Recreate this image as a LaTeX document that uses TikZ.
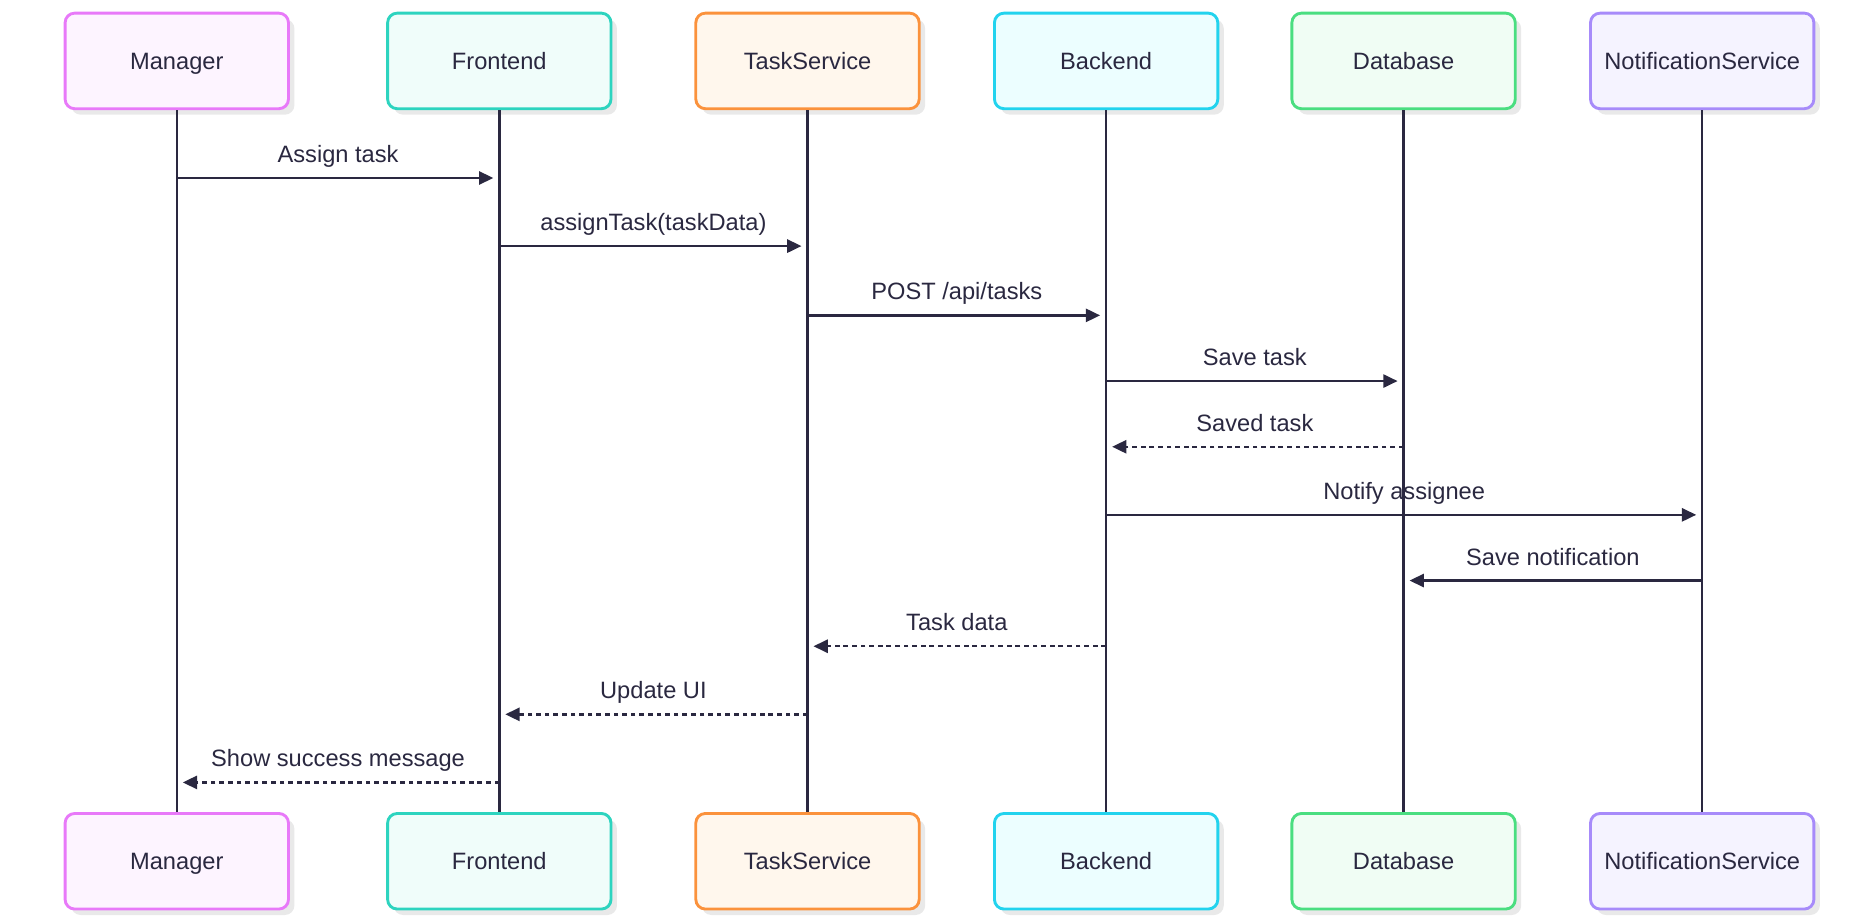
\documentclass[tikz,border=0pt]{standalone}
\usepackage{fontspec}
\setmainfont{Liberation Sans}
\usetikzlibrary{arrows.meta,shadows}
\definecolor{ink}{HTML}{2A2840}
\definecolor{mgrS}{HTML}{E879F9}\definecolor{mgrF}{HTML}{FDF4FF}
\definecolor{feS}{HTML}{2DD4BF}\definecolor{feF}{HTML}{F0FDFA}
\definecolor{tsS}{HTML}{FB923C}\definecolor{tsF}{HTML}{FFF7ED}
\definecolor{beS}{HTML}{22D3EE}\definecolor{beF}{HTML}{ECFEFF}
\definecolor{dbS}{HTML}{4ADE80}\definecolor{dbF}{HTML}{F0FDF4}
\definecolor{nsS}{HTML}{A78BFA}\definecolor{nsF}{HTML}{F5F3FF}
\definecolor{shade}{HTML}{E9E9E9}
\begin{document}
\begin{tikzpicture}[x=0.5pt,y=-0.5pt,
  font=\fontsize{9.9}{12}\selectfont,
  actor/.style={rectangle, rounded corners=4pt, line width=1.2pt,
    minimum width=93.5pt, minimum height=40pt, text=ink,
    text height=7.1pt, text depth=0pt, inner sep=0pt,
    general shadow={shadow xshift=2.5pt, shadow yshift=-2.5pt, fill=shade}},
  life/.style={draw=ink, line width=1pt},
  msg/.style={draw=ink, line width=1pt, -{Triangle[length=6pt,width=5.5pt]}, shorten >=2.5pt},
  reply/.style={msg, dash pattern=on 2pt off 1.6pt},
  lbl/.style={midway, anchor=base, yshift=6.5pt, text=ink}]
\useasboundingbox (0,0) rectangle (1568,767);
% top actors
\node[actor, draw=mgrS, fill=mgrF] (mT) at (148,51) {Manager};
\node[actor, draw=feS, fill=feF] (fT) at (418,51) {Frontend};
\node[actor, draw=tsS, fill=tsF] (tT) at (676,51) {TaskService};
\node[actor, draw=beS, fill=beF] (bT) at (926,51) {Backend};
\node[actor, draw=dbS, fill=dbF] (dT) at (1175,51) {Database};
\node[actor, draw=nsS, fill=nsF] (nT) at (1425,51) {NotificationService};
% bottom actors
\node[actor, draw=mgrS, fill=mgrF] (mB) at (148,721) {Manager};
\node[actor, draw=feS, fill=feF] (fB) at (418,721) {Frontend};
\node[actor, draw=tsS, fill=tsF] (tB) at (676,721) {TaskService};
\node[actor, draw=beS, fill=beF] (bB) at (926,721) {Backend};
\node[actor, draw=dbS, fill=dbF] (dB) at (1175,721) {Database};
\node[actor, draw=nsS, fill=nsF] (nB) at (1425,721) {NotificationService};
% lifelines
\draw[life] (mT.south) -- (mB.north);
\draw[life] (fT.south) -- (fB.north);
\draw[life] (tT.south) -- (tB.north);
\draw[life] (bT.south) -- (bB.north);
\draw[life] (dT.south) -- (dB.north);
\draw[life] (nT.south) -- (nB.north);
% message endpoints
\coordinate (s1) at (148,149);  \coordinate (e1) at (418,149);
\coordinate (s2) at (418,206);  \coordinate (e2) at (676,206);
\coordinate (s3) at (676,264);  \coordinate (e3) at (926,264);
\coordinate (s4) at (926,319);  \coordinate (e4) at (1175,319);
\coordinate (s5) at (1175,374); \coordinate (e5) at (926,374);
\coordinate (s6) at (926,431);  \coordinate (e6) at (1425,431);
\coordinate (s7) at (1425,486); \coordinate (e7) at (1175,486);
\coordinate (s8) at (926,541);  \coordinate (e8) at (676,541);
\coordinate (s9) at (676,598);  \coordinate (e9) at (418,598);
\coordinate (s10) at (418,655); \coordinate (e10) at (148,655);
% messages
\draw[msg] (s1) -- (e1) node[lbl] {Assign task};
\draw[msg] (s2) -- (e2) node[lbl] {assignTask(taskData)};
\draw[msg] (s3) -- (e3) node[lbl] {POST /api/tasks};
\draw[msg] (s4) -- (e4) node[lbl] {Save task};
\draw[reply] (s5) -- (e5) node[lbl] {Saved task};
\draw[msg] (s6) -- (e6) node[lbl] {Notify assignee};
\draw[msg] (s7) -- (e7) node[lbl] {Save notification};
\draw[reply] (s8) -- (e8) node[lbl] {Task data};
\draw[reply] (s9) -- (e9) node[lbl] {Update UI};
\draw[reply] (s10) -- (e10) node[lbl] {Show success message};
\end{tikzpicture}
\end{document}
